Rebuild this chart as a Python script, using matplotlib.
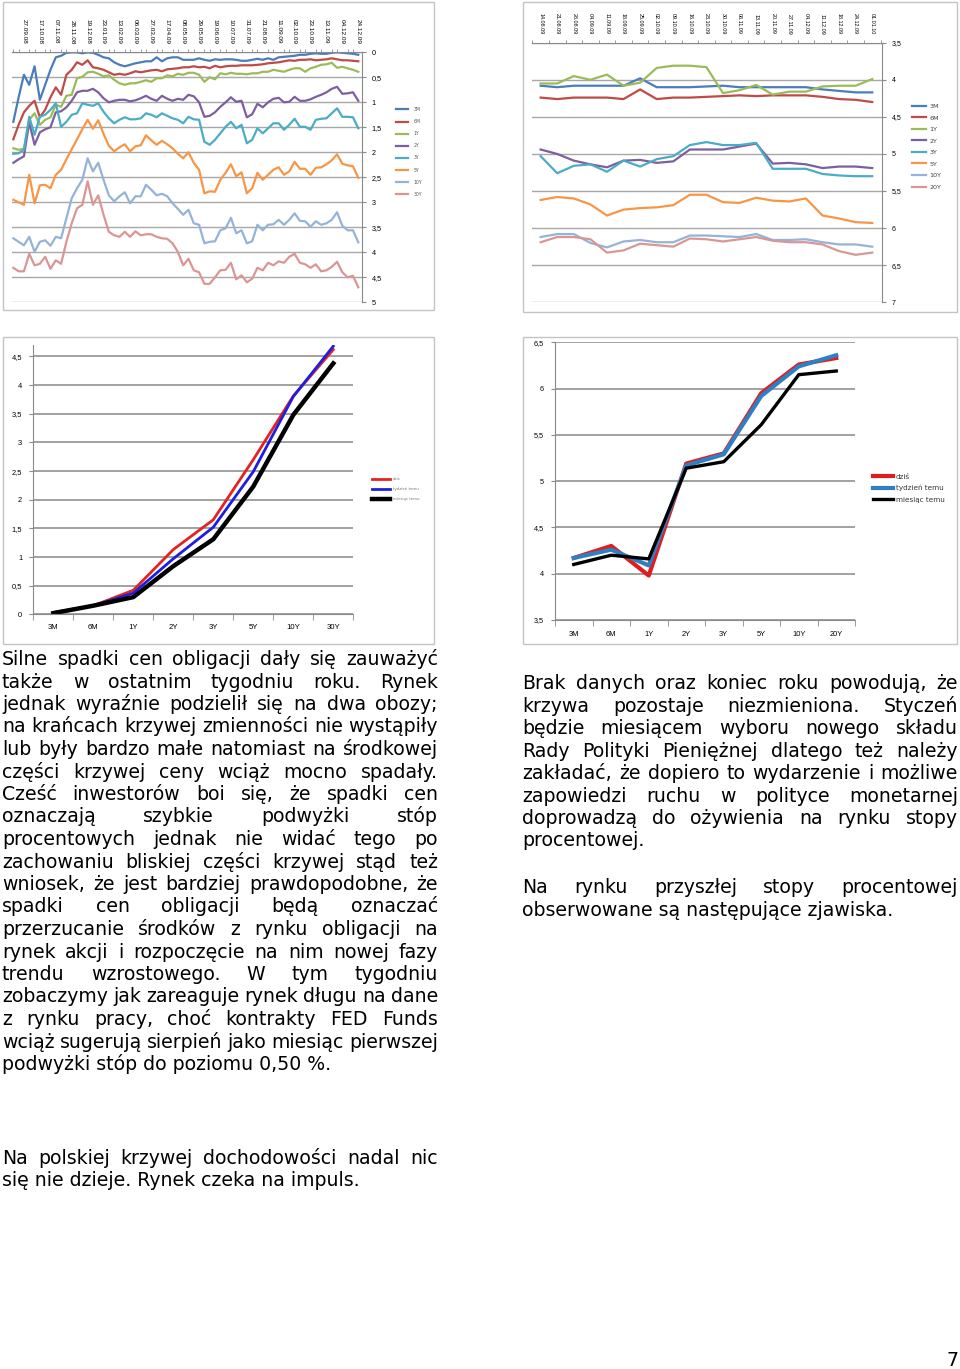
import numpy as np
import matplotlib
matplotlib.use('Agg')
import matplotlib.pyplot as plt
from matplotlib.patches import Rectangle

W, H = 960, 1369

# --- top left: weekly yields, inverted axis ---
tl_dates = ['27.09.08', '17.10.08', '07.11.08', '28.11.08', '19.12.08', '23.01.09', '13.02.09',
            '06.03.09', '27.03.09', '17.04.09', '08.05.09', '29.05.09', '19.06.09', '10.07.09',
            '31.07.09', '21.08.09', '11.09.09', '02.10.09', '23.10.09', '13.11.09', '04.12.09',
            '24.12.09']
tl_names = ['3M', '6M', '1Y', '2Y', '3Y', '5Y', '10Y', '30Y']
tl_3m = [1.39, 0.90, 0.45, 0.65, 0.28, 0.95, 0.65, 0.35, 0.10, 0.07,
         0.01, 0.00, 0.00, 0.02, 0.00, 0.01, 0.05, 0.10, 0.12, 0.20,
         0.25, 0.28, 0.25, 0.22, 0.20, 0.18, 0.18, 0.10, 0.18, 0.12,
         0.10, 0.10, 0.15, 0.15, 0.15, 0.12, 0.15, 0.17, 0.14, 0.15,
         0.14, 0.14, 0.15, 0.17, 0.17, 0.15, 0.13, 0.15, 0.12, 0.15,
         0.10, 0.09, 0.08, 0.07, 0.05, 0.05, 0.03, 0.02, 0.03, 0.03,
         0.01, 0.00, 0.01, 0.02, 0.03, 0.05]
tl_6m = [1.74, 1.45, 1.20, 1.07, 0.97, 1.30, 1.15, 0.90, 0.70, 0.85,
         0.45, 0.35, 0.20, 0.25, 0.16, 0.30, 0.32, 0.35, 0.40, 0.45,
         0.43, 0.45, 0.42, 0.38, 0.40, 0.38, 0.36, 0.35, 0.38, 0.34,
         0.33, 0.32, 0.30, 0.30, 0.28, 0.30, 0.29, 0.32, 0.27, 0.30,
         0.28, 0.27, 0.27, 0.26, 0.26, 0.26, 0.25, 0.24, 0.22, 0.21,
         0.20, 0.18, 0.16, 0.17, 0.15, 0.15, 0.14, 0.16, 0.15, 0.14,
         0.12, 0.14, 0.16, 0.16, 0.17, 0.18]
tl_1y = [1.92, 1.95, 1.93, 1.35, 1.22, 1.45, 1.35, 1.30, 1.05, 1.09,
         0.87, 0.85, 0.52, 0.49, 0.40, 0.39, 0.43, 0.48, 0.46, 0.55,
         0.62, 0.65, 0.62, 0.62, 0.59, 0.56, 0.59, 0.52, 0.52, 0.46,
         0.48, 0.43, 0.45, 0.41, 0.41, 0.45, 0.59, 0.50, 0.54, 0.42,
         0.44, 0.41, 0.43, 0.43, 0.44, 0.42, 0.42, 0.39, 0.39, 0.35,
         0.37, 0.39, 0.35, 0.32, 0.32, 0.39, 0.32, 0.29, 0.25, 0.24,
         0.21, 0.31, 0.29, 0.32, 0.35, 0.39]
tl_2y = [2.21, 2.14, 2.08, 1.40, 1.85, 1.60, 1.54, 1.50, 1.20, 1.18,
         1.10, 0.97, 0.80, 0.77, 0.77, 0.73, 0.80, 0.92, 1.00, 0.97,
         0.95, 0.95, 0.98, 0.96, 0.92, 0.87, 0.93, 0.97, 0.87, 0.93,
         0.97, 0.93, 0.95, 0.85, 0.88, 1.00, 1.29, 1.27, 1.20, 1.09,
         1.00, 0.90, 0.99, 0.97, 1.30, 1.24, 1.03, 1.10, 1.00, 0.93,
         0.91, 1.00, 0.99, 0.89, 0.97, 0.97, 0.94, 0.89, 0.85, 0.80,
         0.73, 0.69, 0.83, 0.82, 0.80, 0.97]
tl_3y = [2.03, 2.02, 1.95, 1.29, 1.65, 1.29, 1.25, 1.15, 1.02, 1.49,
         1.39, 1.25, 1.22, 1.02, 1.05, 1.07, 1.02, 1.19, 1.32, 1.42,
         1.35, 1.30, 1.34, 1.34, 1.32, 1.22, 1.25, 1.30, 1.22, 1.27,
         1.32, 1.35, 1.42, 1.29, 1.34, 1.35, 1.79, 1.85, 1.75, 1.62,
         1.49, 1.39, 1.52, 1.45, 1.82, 1.75, 1.52, 1.62, 1.52, 1.42,
         1.42, 1.55, 1.45, 1.33, 1.49, 1.49, 1.55, 1.35, 1.33, 1.32,
         1.22, 1.12, 1.29, 1.29, 1.30, 1.52]
tl_5y = [2.95, 3.00, 3.05, 2.45, 3.02, 2.66, 2.65, 2.72, 2.45, 2.35,
         2.14, 1.94, 1.74, 1.54, 1.35, 1.53, 1.36, 1.63, 1.87, 1.98,
         1.90, 1.84, 1.98, 1.88, 1.86, 1.66, 1.76, 1.85, 1.77, 1.84,
         1.92, 2.03, 2.12, 2.00, 2.21, 2.35, 2.82, 2.78, 2.79, 2.55,
         2.41, 2.24, 2.48, 2.40, 2.82, 2.72, 2.41, 2.55, 2.45, 2.35,
         2.30, 2.45, 2.38, 2.19, 2.33, 2.33, 2.45, 2.31, 2.30, 2.24,
         2.16, 2.04, 2.23, 2.26, 2.28, 2.51]
tl_10y = [3.72, 3.79, 3.86, 3.69, 3.99, 3.79, 3.76, 3.87, 3.69, 3.72,
          3.32, 2.92, 2.72, 2.55, 2.12, 2.38, 2.21, 2.55, 2.86, 2.98,
          2.88, 2.80, 3.02, 2.88, 2.88, 2.65, 2.75, 2.86, 2.83, 2.88,
          3.02, 3.13, 3.25, 3.15, 3.42, 3.45, 3.82, 3.79, 3.78, 3.56,
          3.52, 3.31, 3.62, 3.56, 3.82, 3.78, 3.45, 3.56, 3.45, 3.44,
          3.35, 3.45, 3.35, 3.22, 3.37, 3.38, 3.49, 3.38, 3.45, 3.42,
          3.35, 3.20, 3.47, 3.56, 3.56, 3.80]
tl_30y = [4.31, 4.38, 4.38, 4.03, 4.26, 4.23, 4.09, 4.33, 4.16, 4.23,
          3.79, 3.42, 3.12, 3.05, 2.58, 3.05, 2.86, 3.25, 3.59, 3.66,
          3.69, 3.59, 3.69, 3.58, 3.66, 3.64, 3.64, 3.69, 3.72, 3.73,
          3.82, 3.99, 4.26, 4.13, 4.36, 4.40, 4.63, 4.63, 4.50, 4.36,
          4.35, 4.21, 4.54, 4.46, 4.60, 4.53, 4.31, 4.36, 4.21, 4.26,
          4.18, 4.21, 4.09, 4.03, 4.21, 4.24, 4.31, 4.24, 4.38, 4.36,
          4.29, 4.19, 4.40, 4.50, 4.47, 4.70]
tl_series = [tl_3m, tl_6m, tl_1y, tl_2y, tl_3y, tl_5y, tl_10y, tl_30y]

# --- top right: weekly yields (PL), inverted axis ---
tr_dates = ['14.08.09', '21.08.09', '28.08.09', '04.09.09', '11.09.09', '18.09.09', '25.09.09',
            '02.10.09', '09.10.09', '16.10.09', '23.10.09', '30.10.09', '06.11.09', '13.11.09',
            '20.11.09', '27.11.09', '04.12.09', '11.12.09', '18.12.09', '24.12.09', '01.01.10']
tr_names = ['3M', '6M', '1Y', '2Y', '3Y', '5Y', '10Y', '20Y']
tr_3m = [4.08, 4.10, 4.08, 4.08, 4.08, 4.08, 3.98, 4.10, 4.10, 4.10, 4.09,
         4.08, 4.10, 4.10, 4.10, 4.10, 4.10, 4.13, 4.15, 4.17, 4.17]
tr_6m = [4.24, 4.26, 4.24, 4.24, 4.24, 4.26, 4.13, 4.26, 4.24, 4.24, 4.23,
         4.22, 4.21, 4.22, 4.21, 4.21, 4.21, 4.23, 4.26, 4.27, 4.30]
tr_1y = [4.05, 4.05, 3.95, 4.00, 3.93, 4.08, 4.04, 3.84, 3.81, 3.81, 3.83,
         4.18, 4.14, 4.07, 4.20, 4.16, 4.16, 4.09, 4.08, 4.08, 3.99]
tr_2y = [4.94, 5.00, 5.09, 5.14, 5.18, 5.09, 5.08, 5.12, 5.10, 4.94, 4.94,
         4.94, 4.90, 4.86, 5.13, 5.12, 5.14, 5.19, 5.17, 5.17, 5.19]
tr_3y = [5.03, 5.26, 5.16, 5.14, 5.24, 5.09, 5.17, 5.07, 5.03, 4.88, 4.84,
         4.88, 4.88, 4.85, 5.20, 5.20, 5.20, 5.27, 5.29, 5.30, 5.30]
tr_5y = [5.62, 5.58, 5.60, 5.68, 5.83, 5.75, 5.73, 5.72, 5.69, 5.55, 5.55,
         5.65, 5.66, 5.59, 5.63, 5.64, 5.60, 5.83, 5.87, 5.92, 5.93]
tr_10y = [6.12, 6.08, 6.08, 6.20, 6.26, 6.18, 6.16, 6.19, 6.19, 6.10, 6.10,
          6.11, 6.12, 6.08, 6.16, 6.16, 6.15, 6.19, 6.22, 6.22, 6.25]
tr_20y = [6.19, 6.12, 6.12, 6.15, 6.33, 6.30, 6.21, 6.23, 6.25, 6.14, 6.15,
          6.18, 6.15, 6.12, 6.17, 6.19, 6.19, 6.22, 6.31, 6.36, 6.33]
tr_series = [tr_3m, tr_6m, tr_1y, tr_2y, tr_3y, tr_5y, tr_10y, tr_20y]

xl_colors = ['#4A7EBB', '#BE4B48', '#9BBB59', '#7D5FA0', '#4BACC6', '#F79646', '#95B3D7', '#D99694']

# --- bottom: yield curves ---
curve_labels = ['dziś', 'tydzień temu', 'miesiąc temu']
bl_cats = ['3M', '6M', '1Y', '2Y', '3Y', '5Y', '10Y', '30Y']
bl_today = [0.03, 0.15, 0.42, 1.13, 1.65, 2.70, 3.81, 4.62]
bl_week = [0.03, 0.15, 0.37, 0.97, 1.52, 2.49, 3.80, 4.68]
bl_month = [0.02, 0.15, 0.30, 0.84, 1.31, 2.23, 3.48, 4.38]

br_cats = ['3M', '6M', '1Y', '2Y', '3Y', '5Y', '10Y', '20Y']
br_today = [4.17, 4.30, 3.98, 5.19, 5.30, 5.95, 6.26, 6.33]
br_week = [4.17, 4.26, 4.09, 5.17, 5.29, 5.92, 6.24, 6.36]
br_month = [4.10, 4.20, 4.16, 5.14, 5.21, 5.61, 6.15, 6.19]

left_text = [
    'Silne spadki cen obligacji dały się zauważyć',
    'także w ostatnim tygodniu roku. Rynek',
    'jednak wyraźnie podzielił się na dwa obozy;',
    'na krańcach krzywej zmienności nie wystąpiły',
    'lub były bardzo małe natomiast na środkowej',
    'części krzywej ceny wciąż mocno spadały.',
    'Cześć inwestorów boi się, że spadki cen',
    'oznaczają szybkie podwyżki stóp',
    'procentowych jednak nie widać tego po',
    'zachowaniu bliskiej części krzywej stąd też',
    'wniosek, że jest bardziej prawdopodobne, że',
    'spadki cen obligacji będą oznaczać',
    'przerzucanie środków z rynku obligacji na',
    'rynek akcji i rozpoczęcie na nim nowej fazy',
    'trendu wzrostowego. W tym tygodniu',
    'zobaczymy jak zareaguje rynek długu na dane',
    'z rynku pracy, choć kontrakty FED Funds',
    'wciąż sugerują sierpień jako miesiąc pierwszej',
    'podwyżki stóp do poziomu 0,50 %.',
]
left_text2 = ['Na polskiej krzywej dochodowości nadal nic',
              'się nie dzieje. Rynek czeka na impuls.']
right_text = [
    'Brak danych oraz koniec roku powodują, że',
    'krzywa pozostaje niezmieniona. Styczeń',
    'będzie miesiącem wyboru nowego składu',
    'Rady Polityki Pieniężnej dlatego też należy',
    'zakładać, że dopiero to wydarzenie i możliwe',
    'zapowiedzi ruchu w polityce monetarnej',
    'doprowadzą do ożywienia na rynku stopy',
    'procentowej.',
]
right_text2 = ['Na rynku przyszłej stopy procentowej',
               'obserwowane są następujące zjawiska.']


def box(l, t, r, b):
    return [l / W, 1 - b / H, (r - l) / W, (b - t) / H]


def comma(v):
    return ('%g' % v).replace('.', ',')


fig = plt.figure(figsize=(W / 100, H / 100), dpi=100)
fig.patch.set_facecolor('white')

# chart frames
for l, t, r, b in [(3, 2, 434, 310), (523, 2, 957, 312), (3, 337, 434, 644), (523, 337, 957, 644)]:
    fig.add_artist(Rectangle((l / W, 1 - b / H), (r - l) / W, (b - t) / H, transform=fig.transFigure,
                             fill=False, edgecolor='#C4C4C4', lw=1))

chart_font = 'Liberation Sans'
grid_c = '#A8A8A8'
axis_c = '#8A8A8A'


def weekly_chart(ax, series, names, dates, ylo, yhi, label_idx, minor_idx, xlim, date_size, ysize):
    for vals, name, col in zip(series, names, xl_colors):
        ax.plot(range(len(vals)), vals, color=col, lw=1.6, label=name, solid_joinstyle='round')
    ax.set_ylim(yhi, ylo)
    ax.set_xlim(*xlim)
    yt = np.arange(ylo, yhi + 0.01, 0.5)
    ax.set_yticks(yt)
    ax.set_yticklabels([comma(v) for v in yt], fontsize=ysize, family=chart_font)
    ax.yaxis.tick_right()
    ax.xaxis.tick_top()
    ax.set_xticks(label_idx)
    ax.set_xticklabels(dates, rotation=270, fontsize=date_size, family=chart_font)
    ax.set_xticks(minor_idx, minor=True)
    ax.tick_params(axis='x', which='major', length=0, pad=6)
    ax.tick_params(axis='x', which='minor', length=2.5, color=axis_c)
    ax.tick_params(axis='y', length=3, color=axis_c, pad=4)
    ax.grid(axis='y', color=grid_c, lw=1)
    ax.set_axisbelow(True)
    for s in ['left', 'bottom']:
        ax.spines[s].set_visible(False)
    for s in ['top', 'right']:
        ax.spines[s].set_color(axis_c)


ax1 = fig.add_axes(box(12, 52.3, 362, 302.3))
n1 = len(tl_3m)
weekly_chart(ax1, tl_series, tl_names, tl_dates, 0, 5, list(range(2, n1, 3)), list(range(n1)),
             (-0.25, 65.7), 4.6, 5.2)
ax1.legend(loc='upper left', bbox_to_anchor=(396 / W, 1 - 107 / H), bbox_transform=fig.transFigure,
           frameon=False, fontsize=3.3, handlelength=2.6, handletextpad=1.2, labelspacing=1.55,
           borderpad=0, borderaxespad=0, labelcolor='#555555')

ax2 = fig.add_axes(box(531.7, 42.7, 881.7, 302.3))
n2 = len(tr_3m)
weekly_chart(ax2, tr_series, tr_names, tr_dates, 3.5, 7, list(range(n2)), list(np.arange(-0.5, n2, 1)),
             (-0.54, 20.57), 3.9, 5.0)
ax2.legend(loc='upper left', bbox_to_anchor=(912 / W, 1 - 103.5 / H), bbox_transform=fig.transFigure,
           frameon=False, fontsize=4.6, handlelength=2.2, handletextpad=0.5, labelspacing=0.95,
           borderpad=0, borderaxespad=0, labelcolor='#444444')


def curve_chart(ax, cats, curves, colors, widths, ylo, yhi, yfs, xfs, xpad):
    for vals, lab, col, lw in zip(curves, curve_labels, colors, widths):
        ax.plot(range(len(vals)), vals, color=col, lw=lw, label=lab, solid_joinstyle='round')
    ax.set_ylim(ylo, yhi)
    ax.set_xlim(-0.5, len(cats) - 0.5)
    yt = np.arange(ylo, 6.51 if yhi > 6 else 4.51, 0.5)
    ax.set_yticks(yt)
    ax.set_yticklabels([comma(v) for v in yt], fontsize=yfs, family=chart_font)
    ax.set_xticks(range(len(cats)))
    ax.set_xticklabels(cats, fontsize=xfs, family=chart_font)
    ax.set_xticks(np.arange(-0.5, len(cats), 1), minor=True)
    ax.tick_params(axis='x', which='major', length=0, pad=xpad)
    ax.tick_params(axis='x', which='minor', length=4, color=axis_c)
    ax.tick_params(axis='y', length=3, color=axis_c, pad=5)
    ax.grid(axis='y', color='#9A9A9A', lw=1.3)
    ax.set_axisbelow(True)
    for s in ['top', 'right']:
        ax.spines[s].set_visible(False)
    for s in ['left', 'bottom']:
        ax.spines[s].set_color(axis_c)


ax3 = fig.add_axes(box(33.3, 345, 353.3, 614.3))
curve_chart(ax3, bl_cats, [bl_today, bl_week, bl_month], ['#E3231F', '#1E1EE0', '#000000'],
            [2.0, 2.0, 3.2], 0, 4.7, 5.4, 5.6, 7)
ax3.legend(loc='upper left', bbox_to_anchor=(372 / W, 1 - 477.5 / H), bbox_transform=fig.transFigure,
           frameon=False, fontsize=2.8, handlelength=4.6, handletextpad=0.8, labelspacing=1.5,
           borderpad=0, borderaxespad=0, labelcolor='#777777')

ax4 = fig.add_axes(box(555, 342.3, 855, 620))
curve_chart(ax4, br_cats, [br_today, br_week, br_month], ['#E21B1E', '#2F80C3', '#000000'],
            [3.0, 3.0, 2.4], 3.5, 6.5, 5.2, 5.4, 8)
ax4.legend(loc='upper left', bbox_to_anchor=(873 / W, 1 - 473.5 / H), bbox_transform=fig.transFigure,
           frameon=False, fontsize=5.2, handlelength=2.8, handletextpad=0.4, labelspacing=0.75,
           borderpad=0, borderaxespad=0, labelcolor='#333333')

# --- body text, justified by measuring each word ---
renderer = fig.canvas.get_renderer()
body_font = 'DejaVu Sans'


def text_width(s, size):
    t = fig.text(0, 0, s, fontsize=size, family=body_font)
    w = t.get_window_extent(renderer).width
    t.remove()
    return w


fs = 12.0 * 328.0 / text_width(left_text[-1], 12.0)


def paragraph(lines, x0, x1, base0, step=22.5):
    for n, line in enumerate(lines):
        yb = 1 - (base0 + n * step) / H
        words = line.split()
        if n == len(lines) - 1 or len(words) < 2:
            fig.text(x0 / W, yb, line, fontsize=fs, family=body_font, va='baseline', ha='left')
            continue
        widths = [text_width(w, fs) for w in words]
        gap = (x1 - x0 - sum(widths)) / (len(words) - 1)
        x = x0
        for w, wd in zip(words, widths):
            fig.text(x / W, yb, w, fontsize=fs, family=body_font, va='baseline', ha='left')
            x += wd + gap


paragraph(left_text, 2, 438, 665)
paragraph(left_text2, 2, 438, 1164)
paragraph(right_text, 522, 958, 689)
paragraph(right_text2, 522, 958, 893)
fig.text(952 / W, 1 - 1366 / H, '7', fontsize=fs, family=body_font, va='baseline', ha='center')

fig.savefig('out.png', dpi=100, facecolor='white')
